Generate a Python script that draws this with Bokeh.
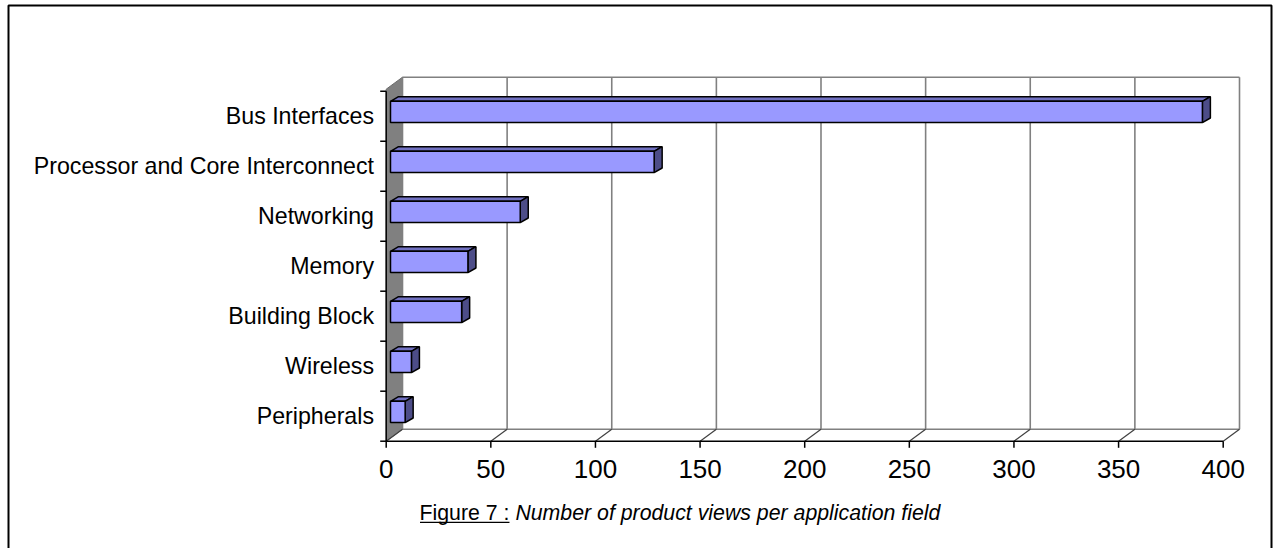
from bokeh.plotting import figure
from bokeh.models import Range1d
from bokeh.core.properties import value
from bokeh.embed import file_html
from bokeh.resources import INLINE

# ---- data ----
categories = ["Peripherals", "Wireless", "Building Block", "Memory",
              "Networking", "Processor and Core Interconnect", "Bus Interfaces"]
values = [7, 10, 34, 37, 62, 126, 388]
x_ticks = [0, 50, 100, 150, 200, 250, 300, 350, 400]
x_tick_labels = [str(t) for t in x_ticks]
caption_prefix = "Figure 7 :"
caption_text = "Number of product views per application field"

# ---- layout / styling ----
W, H = 1274, 548
PX_X = 2.0925          # px per value unit
PX_Y = 50.0            # px per category band
X0, Y0 = 385.7, 440.7  # canvas position of value 0 / category floor
FONT = "Liberation Sans"


def cx(px):
    return (px - X0) / PX_X


def cy(py):
    return (Y0 - py) / PX_Y


p = figure(width=W, height=H, output_backend="svg", toolbar_location=None,
           x_range=Range1d(cx(0), cx(W)), y_range=Range1d(cy(H), cy(0)),
           x_axis_type=None, y_axis_type=None,
           min_border=0, min_border_left=0, min_border_right=0,
           min_border_top=0, min_border_bottom=0)
p.background_fill_color = "white"
p.border_fill_color = "white"
p.outline_line_color = None
p.grid.visible = False

n = len(categories)
xmax = x_ticks[-1]
DXW = 16.3 / PX_X      # wall depth offset (value units)
DYW = 12.0 / PX_Y      # wall depth offset (category units)
WH = n + 0.04          # wall height
GRID = "#808080"

# ---- outer frame ----
p.multi_line(xs=[[cx(8), cx(8), cx(1271), cx(1271)]],
             ys=[[cy(H + 5), cy(5), cy(5), cy(H + 5)]],
             line_color="black", line_width=2)

# ---- walls / floor ----
p.patch([0, DXW, DXW, 0], [0, DYW, WH + DYW, WH], fill_color="#808080",
        line_color="#6a6a6a", line_width=1)
p.segment(x0=[t + DXW for t in x_ticks], y0=[DYW] * len(x_ticks),
          x1=[t + DXW for t in x_ticks], y1=[WH + DYW] * len(x_ticks),
          line_color=GRID, line_width=1.6)
p.segment(x0=[DXW, DXW], y0=[WH + DYW, DYW], x1=[xmax + DXW, xmax + DXW],
          y1=[WH + DYW, DYW], line_color=GRID, line_width=1.6)
p.segment(x0=x_ticks, y0=[0] * len(x_ticks), x1=[t + DXW for t in x_ticks],
          y1=[DYW] * len(x_ticks), line_color="#404040", line_width=1.2)

# ---- 3D bars ----
BX0 = 4.3 / PX_X
BY0 = 0.085
BHH = 0.213
BDX = 8.0 / PX_X
BDY = 4.6 / PX_Y

lefts = [BX0] * n
rights = [BX0 + v for v in values]
bottoms = [i + 0.5 + BY0 - BHH for i in range(n)]
tops = [i + 0.5 + BY0 + BHH for i in range(n)]

top_xs = [[l, r, r + BDX, l + BDX] for l, r in zip(lefts, rights)]
top_ys = [[t, t, t + BDY, t + BDY] for t in tops]
side_xs = [[r, r + BDX, r + BDX, r] for r in rights]
side_ys = [[b, b + BDY, t + BDY, t] for b, t in zip(bottoms, tops)]

p.patches(top_xs, top_ys, fill_color="#7070C0", line_color="black", line_width=1.5)
p.patches(side_xs, side_ys, fill_color="#4D4D88", line_color="black", line_width=1.5)
p.quad(left=lefts, right=rights, bottom=bottoms, top=tops,
       fill_color="#9999FF", line_color="black", line_width=1.5)

# ---- value axis (front edge of floor) ----
TICK = 6.6 / PX_Y
p.segment(x0=[0], y0=[0], x1=[xmax], y1=[0], line_color="black", line_width=1.5)
p.segment(x0=x_ticks, y0=[0] * len(x_ticks), x1=x_ticks,
          y1=[-TICK] * len(x_ticks), line_color="black", line_width=1.5)
p.text(x=x_ticks, y=[cy(468.3)] * len(x_ticks), text=x_tick_labels,
       text_font=value(FONT), text_font_size=value("26px"), text_color="black",
       text_align="center", text_baseline="middle")

# ---- category axis ----
CTICK = 6.0 / PX_X
p.segment(x0=[0], y0=[0], x1=[0], y1=[n], line_color="black", line_width=1.5)
p.segment(x0=[-CTICK] * (n + 1), y0=list(range(n + 1)), x1=[0] * (n + 1),
          y1=list(range(n + 1)), line_color="black", line_width=1.5)
p.text(x=[cx(373.5)] * n, y=[i + 0.5 + 0.008 for i in range(n)], text=categories,
       text_font=value(FONT), text_font_size=value("23.2px"), text_color="black",
       text_align="right", text_baseline="middle")

# ---- caption ----
CAP_X, CAP_Y, CAP_FS = 419.0, 512.0, 21.3
p.text(x=[cx(CAP_X)], y=[cy(CAP_Y)], text=[caption_prefix],
       text_font=value(FONT), text_font_size=value("21.3px"), text_color="black",
       text_align="left", text_baseline="middle")
p.text(x=[cx(CAP_X + 4.502 * CAP_FS)], y=[cy(CAP_Y)], text=[caption_text],
       text_font=value(FONT), text_font_size=value("21.3px"), text_color="black",
       text_font_style="italic", text_align="left", text_baseline="middle")
p.segment(x0=[cx(CAP_X + 0.5)], y0=[cy(CAP_Y + 9.8)],
          x1=[cx(CAP_X + 4.224 * CAP_FS)], y1=[cy(CAP_Y + 9.8)],
          line_color="black", line_width=1.3)

open("out.html", "w").write(file_html(p, INLINE))
